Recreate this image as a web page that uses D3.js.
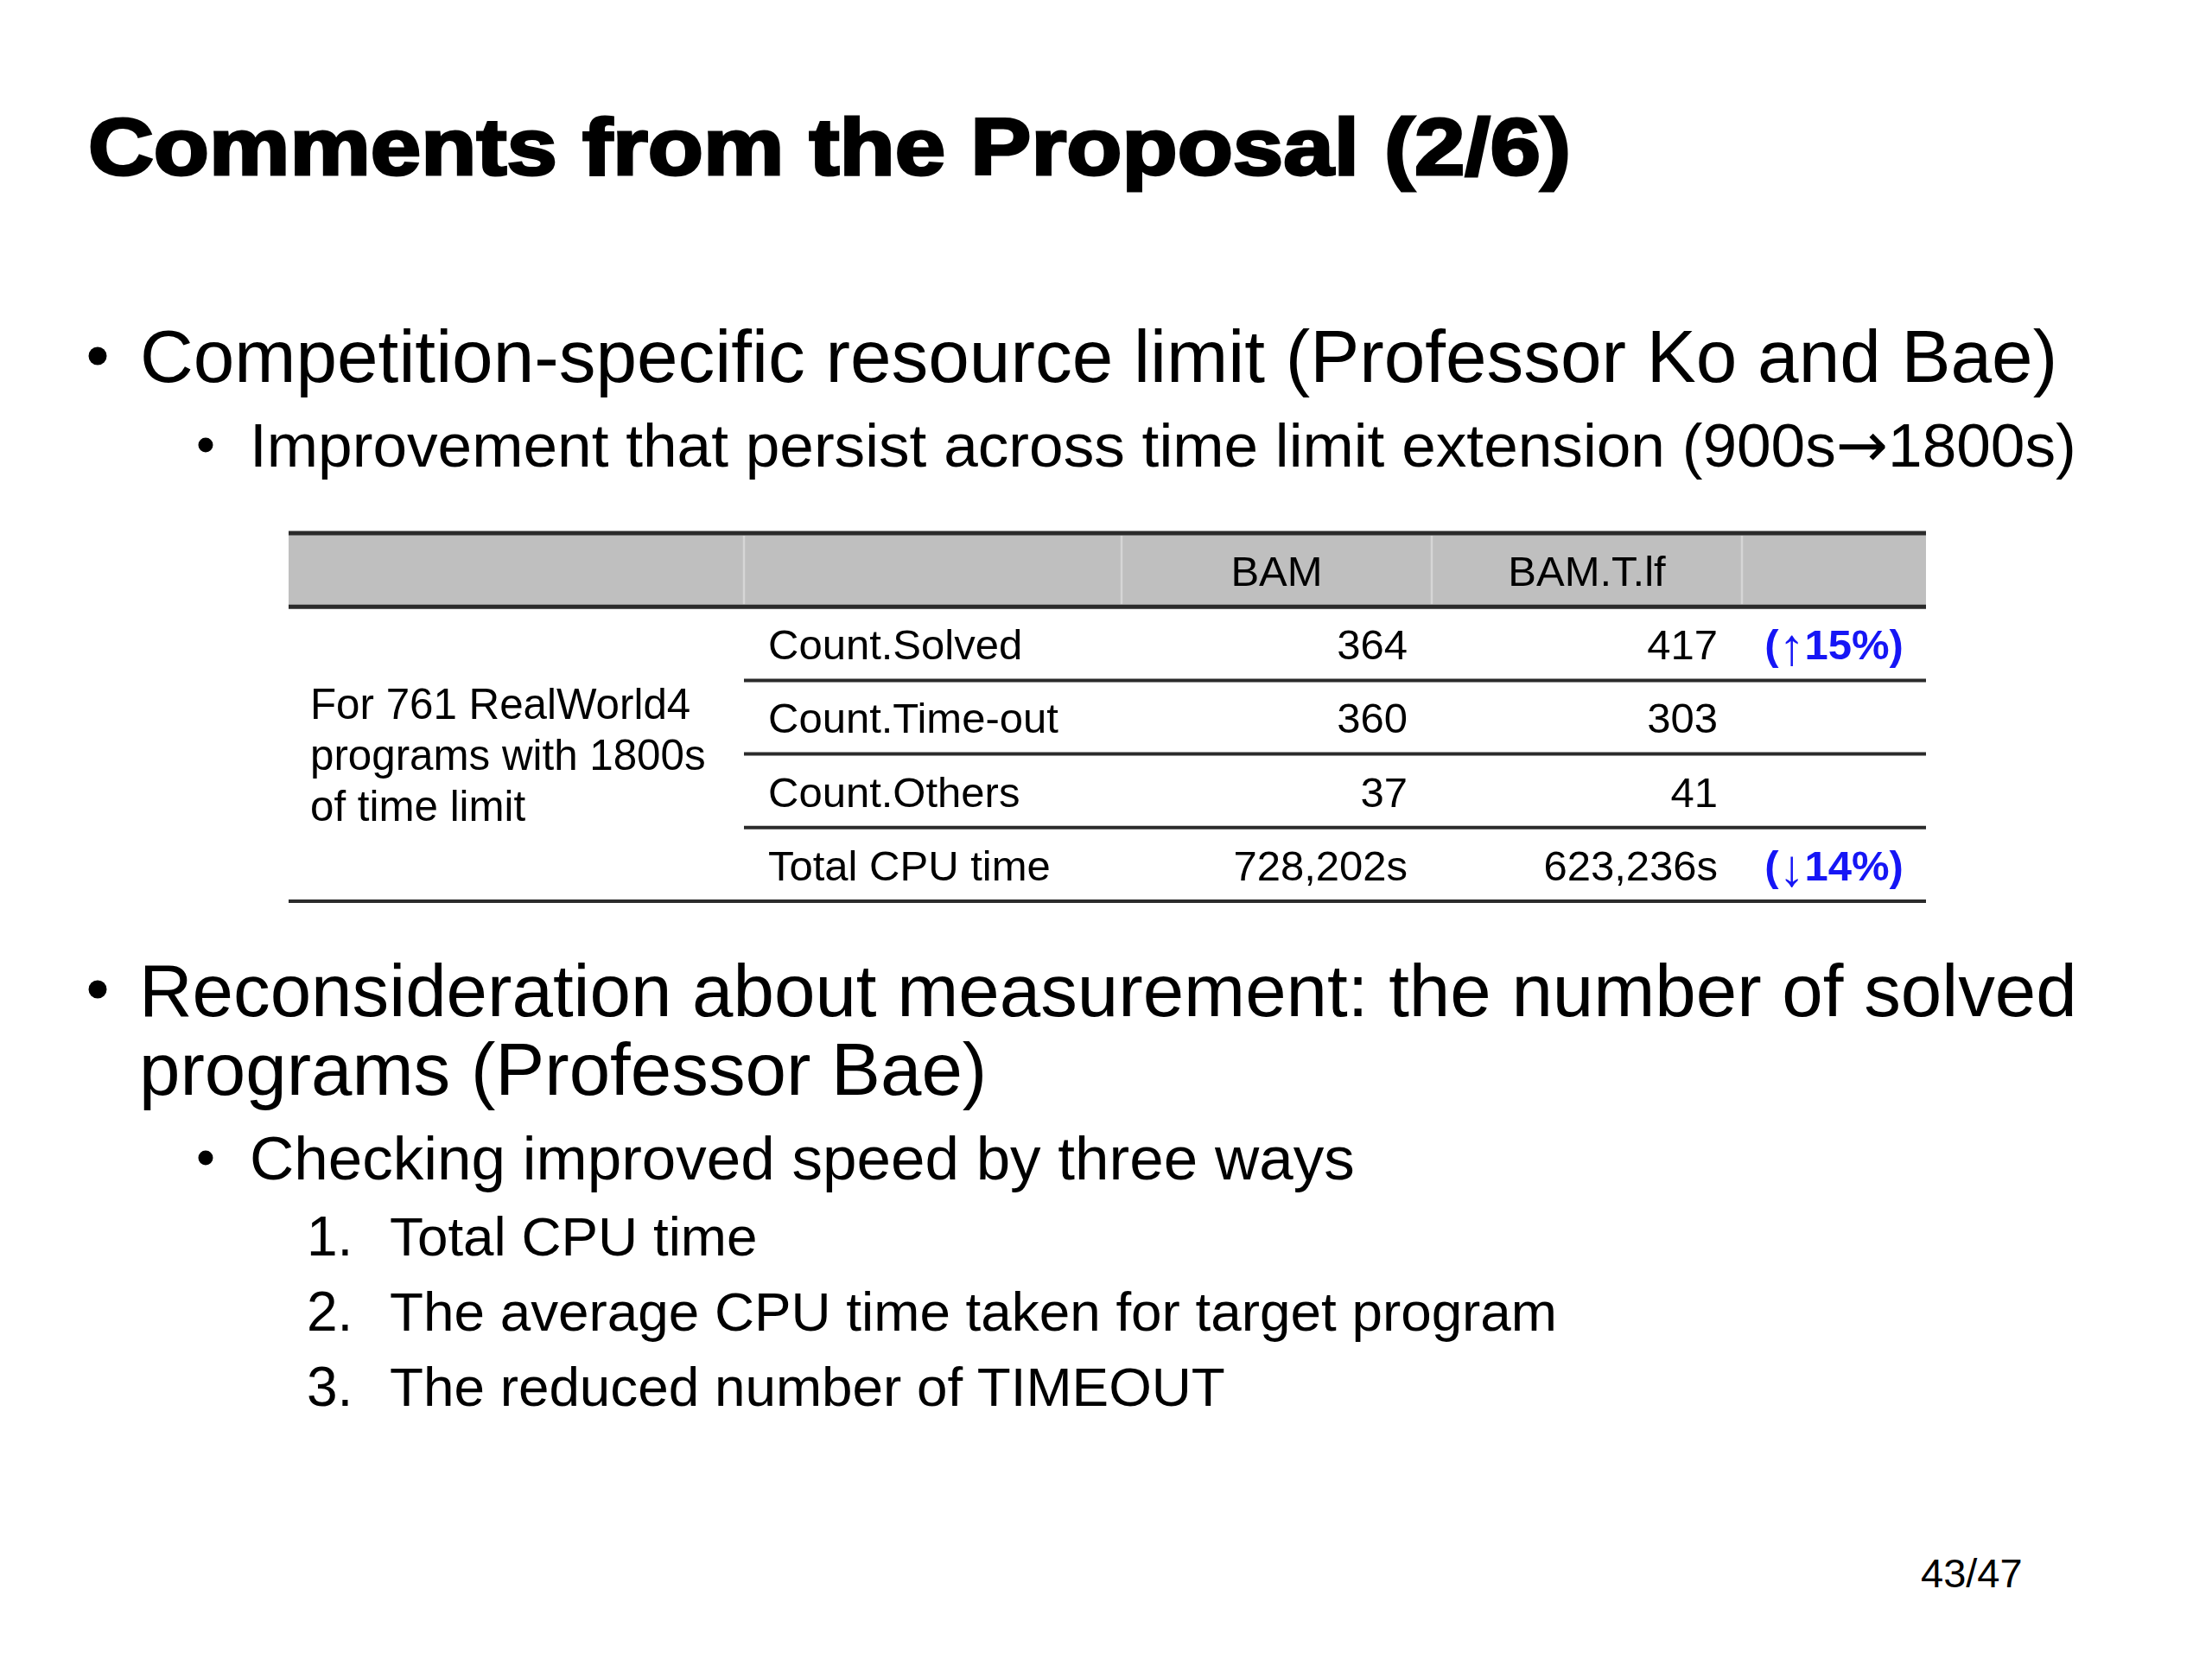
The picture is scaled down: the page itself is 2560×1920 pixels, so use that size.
<!DOCTYPE html>
<html>
<head>
<meta charset="utf-8">
<script src="https://cdn.jsdelivr.net/npm/d3@7"></script>
<style>
  body { margin: 0; background: #fff; }
  svg { display: block; }
  text { font-family: "Liberation Sans", Arial, sans-serif; fill: #000; }
</style>
</head>
<body>
<script>
// Slide content
const title = 'Comments from the Proposal (2/6)';
const firstBullet = 'Competition-specific resource limit (Professor Ko and Bae)';
const firstSub = ['Improvement that persist across time limit extension (900s', '\u2192', '1800s)'];
const secondBullet = ['Reconsideration about measurement: the number of solved', 'programs (Professor Bae)'];
const secondSub = 'Checking improved speed by three ways';
const ways = ['Total CPU time', 'The average CPU time taken for target program', 'The reduced number of TIMEOUT'];
const pageLabel = '43/47';

// Table data
const headers = ['', '', 'BAM', 'BAM.T.lf', ''];
const groupLabel = ['For 761 RealWorld4', 'programs with 1800s', 'of time limit'];
const metrics = ['Count.Solved', 'Count.Time-out', 'Count.Others', 'Total CPU time'];
const bamValues = [364, 360, 37, 728202];
const bamTlfValues = [417, 303, 41, 623236];
const units = ['', '', '', 's'];
const changeArrows = ['\u2191', '', '', '\u2193'];
const changePct = [15, null, null, 14];

const W = 2560, H = 1920;
const svg = d3.select('body').append('svg')
    .attr('width', W)
    .attr('height', H);

svg.append('rect').attr('width', W).attr('height', H).attr('fill', '#fff');

// Title
svg.append('text')
    .attr('x', 102)
    .attr('y', 202)
    .attr('font-family', '"DejaVu Sans", sans-serif')
    .attr('font-weight', 'bold')
    .attr('font-size', 92)
    .attr('textLength', 1716)
    .attr('lengthAdjust', 'spacingAndGlyphs')
    .attr('stroke', '#000')
    .attr('stroke-width', 3)
    .text(title);

// helpers for bullets
function bullet(cx, cy, r) {
    svg.append('circle').attr('cx', cx).attr('cy', cy).attr('r', r).attr('fill', '#000');
}
function line(x, y, size, str) {
    return svg.append('text').attr('x', x).attr('y', y).attr('font-size', size).text(str);
}

// First bullet block
bullet(113, 412, 10.5);
line(162, 442, 85.5, firstBullet);
bullet(238, 515, 8.5);
const sub1 = svg.append('text').attr('x', 289).attr('y', 540).attr('font-size', 71.2);
sub1.append('tspan').text(firstSub[0]);
sub1.append('tspan').attr('font-family', '"DejaVu Sans", sans-serif').attr('font-size', 72).text(firstSub[1]);
sub1.append('tspan').text(firstSub[2]);

// Second bullet block
bullet(113, 1145, 10.5);
secondBullet.forEach((s, i) => line(161, 1176 + i * 91, 85.3, s));
bullet(238, 1340, 8.5);
line(289, 1365, 71, secondSub);

const wayY = d3.scaleLinear().domain([0, 1]).range([1453, 1540]);
ways.forEach((s, i) => {
    line(355, wayY(i), 64, (i + 1) + '.');
    line(451, wayY(i), 63.8, s);
});

// Page number
line(2223, 1837, 47, pageLabel);

// ---- Table ----
const colEdges = [334, 861, 1298, 1657, 2016, 2229];
const rows = ['header', ...metrics];
const y = d3.scaleBand().domain(rows).range([617, 1043]);
const fmt = d3.format(',');
const tableFont = 49;
const pad = 28;

const table = svg.append('g');

// header fill
table.append('rect')
    .attr('x', colEdges[0])
    .attr('y', y('header'))
    .attr('width', colEdges[5] - colEdges[0])
    .attr('height', y.bandwidth())
    .attr('fill', '#bfbfbf');

// light dividers inside header
table.selectAll('line.hdiv')
    .data(colEdges.slice(1, 5))
    .enter().append('line')
    .attr('class', 'hdiv')
    .attr('x1', d => d).attr('x2', d => d)
    .attr('y1', y('header') + 3).attr('y2', y('header') + y.bandwidth() - 3)
    .attr('stroke', '#d6d6d6')
    .attr('stroke-width', 2.5);

// header labels
table.selectAll('text.head')
    .data(headers)
    .enter().append('text')
    .attr('class', 'head')
    .attr('x', (d, i) => (colEdges[i] + colEdges[i + 1]) / 2)
    .attr('y', y('header') + 61)
    .attr('text-anchor', 'middle')
    .attr('font-size', tableFont)
    .text(d => d);

// group label (merged cell)
const groupMid = (y(metrics[0]) + y(metrics[3]) + y.bandwidth()) / 2;
groupLabel.forEach((s, i) => {
    table.append('text')
        .attr('x', 359)
        .attr('y', groupMid - 41 + i * 59)
        .attr('font-size', 49.3)
        .text(s);
});

// body rows
const rowG = table.selectAll('g.row')
    .data(metrics)
    .enter().append('g')
    .attr('class', 'row')
    .attr('transform', d => `translate(0,${y(d)})`);

rowG.append('text')
    .attr('x', colEdges[1] + pad)
    .attr('y', 61)
    .attr('font-size', tableFont)
    .text(d => d);

rowG.append('text')
    .attr('x', colEdges[3] - pad)
    .attr('y', 61)
    .attr('text-anchor', 'end')
    .attr('font-size', tableFont)
    .text((d, i) => fmt(bamValues[i]) + units[i]);

rowG.append('text')
    .attr('x', colEdges[4] - pad)
    .attr('y', 61)
    .attr('text-anchor', 'end')
    .attr('font-size', tableFont)
    .text((d, i) => fmt(bamTlfValues[i]) + units[i]);

// change column: "(↑15%)" with a thin tall arrow
const change = rowG.filter((d, i) => changePct[i] != null)
    .append('text')
    .attr('x', (colEdges[4] + colEdges[5]) / 2)
    .attr('y', 61)
    .attr('text-anchor', 'middle')
    .attr('font-size', tableFont)
    .attr('font-weight', 'bold')
    .style('fill', '#1616f5');
change.append('tspan').text('(');
change.append('tspan')
    .attr('font-weight', 'normal')
    .attr('font-size', 60)
    .attr('dy', 6)
    .text(d => changeArrows[metrics.indexOf(d)]);
change.append('tspan')
    .attr('dy', -6)
    .text(d => changePct[metrics.indexOf(d)] + '%)');

// rules
const ruleColor = '#2b2b2b';
// top and header bottom (full width)
[y('header'), y(metrics[0])].forEach(v => {
    table.append('line')
        .attr('x1', colEdges[0]).attr('x2', colEdges[5])
        .attr('y1', v).attr('y2', v)
        .attr('stroke', ruleColor).attr('stroke-width', 5);
});
// inner row separators (from second column)
metrics.slice(1).forEach(m => {
    table.append('line')
        .attr('x1', colEdges[1]).attr('x2', colEdges[5])
        .attr('y1', y(m)).attr('y2', y(m))
        .attr('stroke', ruleColor).attr('stroke-width', 4);
});
// bottom
table.append('line')
    .attr('x1', colEdges[0]).attr('x2', colEdges[5])
    .attr('y1', y(metrics[3]) + y.bandwidth()).attr('y2', y(metrics[3]) + y.bandwidth())
    .attr('stroke', ruleColor).attr('stroke-width', 4);
</script>
</body>
</html>
